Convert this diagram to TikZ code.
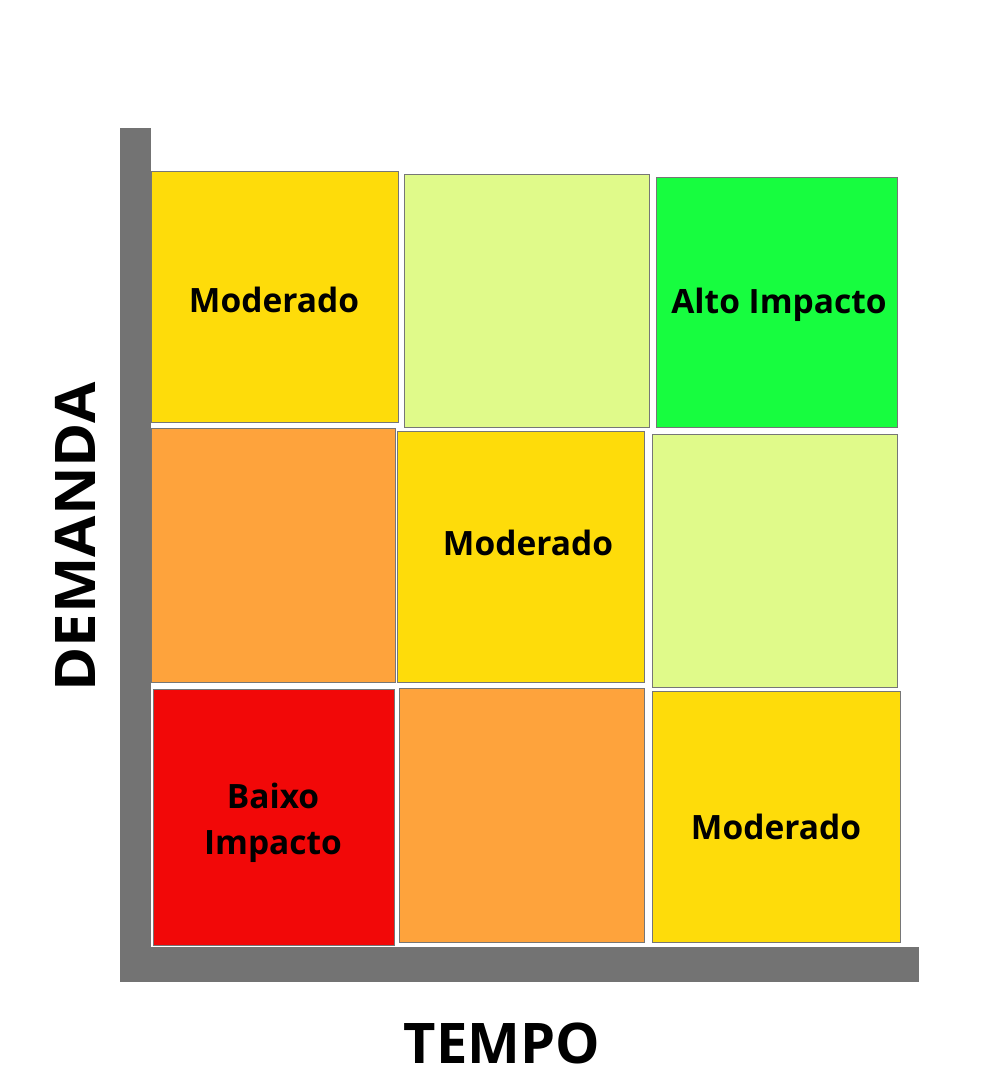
\documentclass[tikz,border=0pt]{standalone}
\usepackage{fontspec}
\setmainfont{Open Sans}
\usetikzlibrary{positioning}
\definecolor{bar}{HTML}{737373}
\definecolor{edge}{HTML}{767676}
\definecolor{mid}{HTML}{FEDC0A}
\definecolor{lime}{HTML}{E0FA8A}
\definecolor{high}{HTML}{17FD3F}
\definecolor{warm}{HTML}{FEA33C}
\definecolor{low}{HTML}{F20808}
\tikzset{cell/.style={draw=edge,line width=1pt,anchor=north west,inner sep=0pt},
  tag/.style={font=\fontsize{33.5}{46}\selectfont\bfseries,align=center,inner sep=0pt},
  axis/.style={font=\fontsize{56}{60}\selectfont\bfseries,inner sep=0pt}}

\begin{document}
\begin{tikzpicture}[x=1pt,y=-1pt]
\useasboundingbox (0,0) rectangle (1000,1080);
% axes bars
\fill[bar] (120,128) rectangle (151,982);
\fill[bar] (151,947) rectangle (919,982);
% top row
\node[cell,fill=mid,minimum width=247,minimum height=251] (c11) at (151,171) {};
\node[cell,fill=lime,minimum width=245,minimum height=253] (c12) at (404,174) {};
\node[cell,fill=high,minimum width=241,minimum height=250] (c13) at (656,177) {};
% middle row
\node[cell,fill=warm,minimum width=244,minimum height=254] (c21) at (151,428) {};
\node[cell,fill=mid,minimum width=247,minimum height=251] (c22) at (397,431) {};
\node[cell,fill=lime,minimum width=245,minimum height=253] (c23) at (652,434) {};
% bottom row
\node[cell,fill=low,minimum width=241,minimum height=256] (c31) at (153,689) {};
\node[cell,fill=warm,minimum width=245,minimum height=254] (c32) at (399,688) {};
\node[cell,fill=mid,minimum width=248,minimum height=251] (c33) at (652,691) {};
% texts
\node[tag,anchor=base] (t11) at (274,312) {Moderado};
\node[tag,anchor=base] (t13) at (779,313) {Alto Impacto};
\node[tag,anchor=base] (t22) at (528,555) {Moderado};
\node[tag,anchor=base] (t33) at (776,839) {Moderado};
\node[tag] (t31) at (273,823) {Baixo\\Impacto};
\node[axis,rotate=90,xscale=1.07] (dem) at (75,537) {DEMANDA};
\node[axis] (tem) at (502,1043) {TEMPO};
\end{tikzpicture}
\end{document}
